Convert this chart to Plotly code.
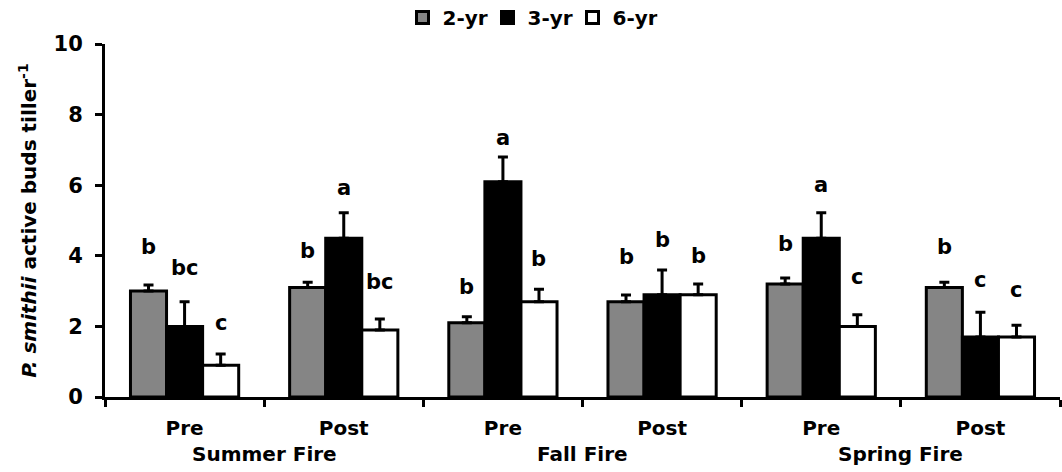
import plotly.graph_objects as go

# ---- data ----
periods = ["Pre", "Post", "Pre", "Post", "Pre", "Post"]
fires = ["Summer Fire", "Fall Fire", "Spring Fire"]
series_names = ["2-yr", "3-yr", "6-yr"]
vals_2yr = [3.0, 3.1, 2.1, 2.7, 3.2, 3.1]
vals_3yr = [2.0, 4.5, 6.1, 2.9, 4.5, 1.7]
vals_6yr = [0.9, 1.9, 2.7, 2.9, 2.0, 1.7]
err_2yr = [0.17, 0.15, 0.17, 0.19, 0.17, 0.15]
err_3yr = [0.70, 0.72, 0.70, 0.70, 0.72, 0.70]
err_6yr = [0.32, 0.31, 0.35, 0.30, 0.33, 0.33]
letters_2yr = ["b", "b", "b", "b", "b", "b"]
letters_3yr = ["bc", "a", "a", "b", "a", "c"]
letters_6yr = ["c", "bc", "b", "b", "c", "c"]
letter_y_2yr = [4.24, 4.14, 3.12, 3.97, 4.33, 4.24]
letter_y_3yr = [3.65, 5.93, 7.34, 4.45, 6.00, 3.31]
letter_y_6yr = [2.09, 3.27, 3.90, 3.99, 3.40, 3.03]
y_ticks = [0, 2, 4, 6, 8, 10]

colors = ["#858585", "#000000", "#ffffff"]
FONT = "DejaVu Sans"

xs = list(range(len(periods)))
bargap = 0.32
bar_w = (1 - bargap) / 3

fig = go.Figure()
for name, vals, errs, col in zip(series_names, [vals_2yr, vals_3yr, vals_6yr],
                                 [err_2yr, err_3yr, err_6yr], colors):
    fig.add_trace(go.Bar(
        x=xs, y=vals, name=name,
        marker=dict(color=col, line=dict(color="black", width=3)),
        error_y=dict(type="data", array=errs, arrayminus=[0] * len(errs),
                     symmetric=False, color="black", thickness=3, width=5),
    ))

annotations = []
for k, (labs, ly) in enumerate(zip([letters_2yr, letters_3yr, letters_6yr],
                                   [letter_y_2yr, letter_y_3yr, letter_y_6yr])):
    for i, (t, yv) in enumerate(zip(labs, ly)):
        annotations.append(dict(x=xs[i] + (k - 1) * bar_w, y=yv, xref="x", yref="y",
                                text=t, showarrow=False,
                                font=dict(family=FONT, size=21, color="black", weight="bold")))
for j, f in enumerate(fires):
    annotations.append(dict(x=2 * j + 0.5, y=-0.161, xref="x", yref="paper",
                            text=f, showarrow=False, yanchor="middle",
                            font=dict(family=FONT, size=20, color="black", weight="bold")))

fig.update_layout(
    width=1062, height=472,
    margin=dict(l=105, r=2, t=44, b=75, autoexpand=False),
    paper_bgcolor="white", plot_bgcolor="white",
    barmode="group", bargap=bargap, bargroupgap=0,
    font=dict(family=FONT, color="black", weight="bold"),
    legend=dict(orientation="h", x=0.445, xanchor="center",
                yref="container", y=0.963, yanchor="middle",
                font=dict(family=FONT, size=20, weight="bold"), itemwidth=30,
                entrywidth=40, entrywidthmode="pixels",
                traceorder="normal"),
    annotations=annotations,
    showlegend=True,
)
fig.update_xaxes(
    range=[-0.5, len(periods) - 0.5], tickmode="array", tickvals=xs, ticktext=periods,
    ticks="", showline=True, linecolor="black", linewidth=3, showgrid=False, zeroline=False,
    tickfont=dict(family=FONT, size=20, weight="bold"), ticklabelstandoff=11,
    minor=dict(tickvals=[x - 0.5 for x in xs] + [xs[-1] + 0.5], ticks="outside",
               ticklen=7, tickwidth=3, tickcolor="black"),
)
fig.update_yaxes(
    range=[0, 10], tickvals=y_ticks, ticks="outside", ticklen=7, tickwidth=3,
    tickcolor="black", showline=True, linecolor="black", linewidth=3,
    showgrid=False, zeroline=False, ticklabelstandoff=8,
    tickfont=dict(family=FONT, size=21, weight="bold"),
    title=dict(text="<i>P. smithii</i> active buds tiller<sup>-1</sup>",
               font=dict(family=FONT, size=20, weight="bold"), standoff=12),
)
fig.write_html("out.html")
